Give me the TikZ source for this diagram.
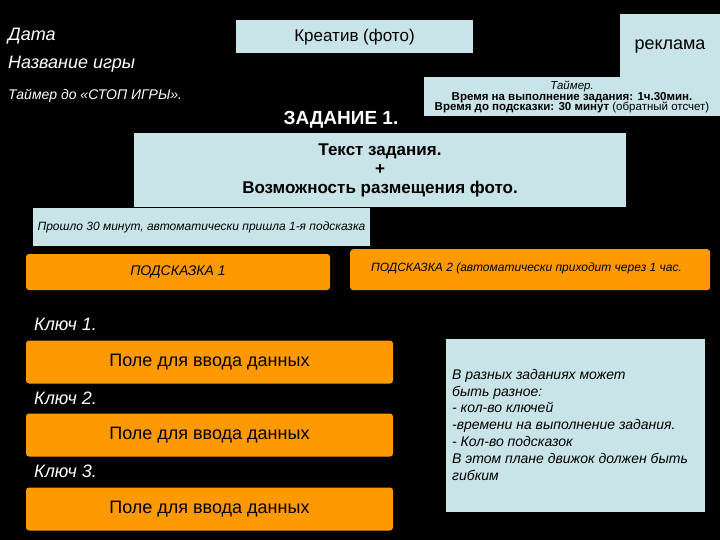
\documentclass[tikz,border=0pt]{standalone}
\usepackage{fontspec}
\setmainfont{Liberation Sans}
\newcommand{\fs}[1]{\fontsize{#1}{#1}\selectfont}
\begin{document}
\begin{tikzpicture}[x=1pt,y=-1pt,
  lb/.style={fill=lblue,draw=none,inner sep=0pt},
  ob/.style={fill=orng,draw=none,rounded corners=3pt,inner sep=0pt},
  wt/.style={text=white,anchor=west,inner sep=0pt}]
\definecolor{lblue}{HTML}{C8E4E8}
\definecolor{orng}{HTML}{FF9900}
\fill[black] (0,0) rectangle (720,540);
\useasboundingbox (0,0) rectangle (720,540);
\node[lb,minimum width=100pt,minimum height=66pt,font=\fs{18}] (rek) at (670,47) {реклама};
\node[lb,minimum width=237pt,minimum height=33pt,font=\fs{17}] (kre) at (354.5,37) {Креатив (фото)};
\node[lb,minimum width=296pt,minimum height=39pt,align=center,font=\fs{11.5}\bfseries] (tim) at (572,97) {\mdseries\itshape Таймер.\\[-1pt]Время на выполнение задания: 1ч.30мин.\\[-1pt]Время до подсказки: 30 минут \mdseries(обратный отсчет)};
\node[wt,font=\itshape\fs{18}] (d) at (8,36) {Дата};
\node[wt,font=\itshape\fs{18}] (n) at (8,64) {Название игры};
\node[wt,font=\itshape\fs{14}] (t) at (8,96) {Таймер до «СТОП ИГРЫ».};
\node[text=white,font=\bfseries\fs{19}] (z) at (341,120) {ЗАДАНИЕ 1.};
\node[lb,minimum width=492pt,minimum height=74pt,align=center,font=\bfseries\fs{17}] (txt) at (380,170) {Текст задания.\\[2pt] +\\[2pt] Возможность размещения фото.};
\node[lb,minimum width=337pt,minimum height=38pt,font=\itshape\fs{12}] (pr) at (201.5,227) {Прошло 30 минут, автоматически пришла 1-я подсказка};
\node[ob,minimum width=304pt,minimum height=36pt] (p1) at (178,272) {};
\node[font=\itshape\fs{14}] (p1t) at (178,272) {ПОДСКАЗКА 1};
\node[ob,minimum width=360pt,minimum height=41pt,anchor=north west] (p2) at (350,249) {};
\node[anchor=west,font=\itshape\fs{12},inner sep=0pt] (p2t) at (371,268) {ПОДСКАЗКА 2 (автоматически приходит через 1 час.};
\node[wt,font=\itshape\fs{18}] (k1) at (34,324) {Ключ 1.};
\node[ob,minimum width=367pt,minimum height=43pt,font=\fs{18}] (f1) at (209.5,362) {Поле для ввода данных};
\node[wt,font=\itshape\fs{18}] (k2) at (34,398) {Ключ 2.};
\node[ob,minimum width=367pt,minimum height=43pt,font=\fs{18}] (f2) at (209.5,435) {Поле для ввода данных};
\node[wt,font=\itshape\fs{18}] (k3) at (34,471) {Ключ 3.};
\node[ob,minimum width=367pt,minimum height=43pt,font=\fs{18}] (f3) at (209.5,509) {Поле для ввода данных};
\node[lb,minimum width=259pt,minimum height=173pt] (rb) at (575.5,425.5) {};
\node[anchor=north west,align=left,font=\itshape\fontsize{14}{16.8}\selectfont,inner sep=0pt] (rbt) at (452,369) {В разных заданиях может\\быть разное:\\- кол-во ключей\\-времени на выполнение задания.\\- Кол-во подсказок\\В этом плане движок должен быть\\гибким};
\end{tikzpicture}
\end{document}
